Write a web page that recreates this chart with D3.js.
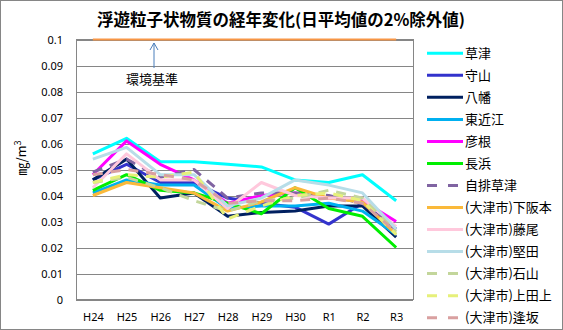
<!DOCTYPE html>
<html><head><meta charset="utf-8">
<script src="https://cdn.jsdelivr.net/npm/d3@7"></script>
<style>body{margin:0;background:#fff}svg{display:block}</style>
</head><body><svg id="c" width="563" height="330"></svg>
<script>
const categories = ["H24","H25","H26","H27","H28","H29","H30","R1","R2","R3"];
const yTicks = [0,0.01,0.02,0.03,0.04,0.05,0.06,0.07,0.08,0.09,0.1];
const yTickLabels = ["0","0.01","0.02","0.03","0.04","0.05","0.06","0.07","0.08","0.09","0.1"];
const standard = [0.1,0.1,0.1,0.1,0.1,0.1,0.1,0.1,0.1,0.1];
const seriesNames = ["草津","守山","八幡","東近江","彦根","長浜","自排草津","(大津市)下阪本","(大津市)藤尾","(大津市)堅田","(大津市)石山","(大津市)上田上","(大津市)逢坂"];
const kusatsu   = [0.056,0.062,0.053,0.053,0.052,0.051,0.046,0.045,0.048,0.038];
const moriyama  = [0.046,0.052,0.045,0.045,0.039,0.037,0.0355,0.029,0.037,0.027];
const yawata    = [0.046,0.054,0.039,0.041,0.032,0.0335,0.034,0.036,0.036,0.024];
const higashiomi= [0.041,0.046,0.044,0.044,0.035,0.036,0.036,0.037,0.034,0.025];
const hikone    = [0.048,0.061,0.052,0.046,0.037,0.040,0.041,0.039,0.038,0.030];
const nagahama  = [0.042,0.048,0.042,0.041,0.037,0.033,0.043,0.035,0.032,0.020];
const jihaiKusatsu = [0.049,0.054,0.047,0.050,0.039,0.041,0.041,0.040,0.037,0.027];
const shimosakamoto= [0.040,0.045,0.043,0.041,0.034,0.0375,0.043,0.039,0.0375,0.025];
const fujio     = [0.043,0.056,0.046,0.046,0.035,0.045,0.040,0.039,0.039,0.028];
const katata    = [0.054,0.0585,0.048,0.048,0.036,0.039,0.046,0.044,0.041,0.027];
const ishiyama  = [0.045,0.047,0.043,0.038,0.034,0.038,0.039,0.042,0.039,0.026];
const tanakami  = [0.045,0.048,0.047,0.049,0.031,0.036,0.040,0.041,0.038,0.025];
const osaka     = [0.048,0.050,0.048,0.046,0.037,0.038,0.038,0.039,0.037,0.026];
const seriesValues = [kusatsu,moriyama,yawata,higashiomi,hikone,nagahama,jihaiKusatsu,shimosakamoto,fujio,katata,ishiyama,tanakami,osaka];
const colors = ["#00ffff","#3333cc","#002060","#00b0f0","#ff00ff","#00ee00","#8064a2","#fab93a","#ffc8dc","#b7dde8","#c3d69b","#e6f07a","#d9a0a0"];
const dashed = [false,false,false,false,false,false,true,false,false,false,true,true,true];

const svg = d3.select("#c");
const L=76, R=413, T=39.5, B=299.5;
const jp = "'Noto Sans CJK JP', sans-serif";
const lat = "'Noto Sans', sans-serif";

svg.append("rect").attr("x",0.5).attr("y",0.5).attr("width",562).attr("height",329)
  .attr("fill","#fff").attr("stroke","#868686");

const x = d3.scalePoint().domain(categories).range([L,R]).padding(0.5);
const y = d3.scaleLinear().domain([0,0.1]).range([B,T]);

// gridlines
const ya = d3.axisLeft(y).tickValues(yTicks).tickSize(-(R-L)).tickFormat((d,i)=>yTickLabels[i]);
const gy = svg.append("g").attr("transform",`translate(${L},0)`).call(ya);
gy.select(".domain").remove();
gy.selectAll(".tick line").attr("stroke","#868686").attr("shape-rendering","crispEdges");
gy.selectAll(".tick text").attr("x",-13).attr("font-family",lat).attr("font-size",11).attr("fill","#000");

// plot border
svg.append("rect").attr("x",L).attr("y",T).attr("width",R-L).attr("height",B-T)
  .attr("fill","none").attr("stroke","#868686").attr("shape-rendering","crispEdges");

// x axis labels
const xa = d3.axisBottom(x).tickSize(0).tickPadding(0);
const gx = svg.append("g").attr("transform",`translate(0,${B})`).call(xa);
gx.select(".domain").remove();
gx.selectAll(".tick text").attr("dy",0).attr("y",21).attr("font-family",lat).attr("font-size",11).attr("fill","#000");

// lines
const line = d3.line().x((d,i)=>x(categories[i])).y(d=>y(d));
svg.append("path").datum(standard).attr("d",line).attr("fill","none").attr("stroke","#f79646").attr("stroke-width",2);
seriesValues.forEach((vals,k)=>{
  svg.append("path").datum(vals).attr("d",line).attr("fill","none")
    .attr("stroke",colors[k]).attr("stroke-width",3).attr("stroke-linejoin","round")
    .attr("stroke-dasharray",dashed[k]?"10,8":null);
});

// annotation
const ax = 154;
svg.append("line").attr("x1",ax).attr("x2",ax).attr("y1",68).attr("y2",43).attr("stroke","#4a7ebb").attr("stroke-width",1);
svg.append("path").attr("d",`M${ax-4},50 L${ax},43 L${ax+4},50`).attr("fill","none").attr("stroke","#4a7ebb").attr("stroke-width",1);
svg.append("text").attr("x",152).attr("y",84).attr("text-anchor","middle").attr("font-family",jp).attr("font-size",13).text("環境基準");

// title
svg.append("text").attr("x",281).attr("y",26).attr("text-anchor","middle").attr("font-family",jp)
  .attr("font-size",16.5).attr("font-weight","bold").text("浮遊粒子状物質の経年変化(日平均値の2%除外値)");

// y label
const yl = svg.append("text").attr("transform","translate(26,158) rotate(-90)").attr("text-anchor","middle")
  .attr("font-family",jp).attr("font-size",13);
yl.append("tspan").text("㎎/m");
yl.append("tspan").attr("dy",-5).attr("font-size",9).text("3");

// legend
const lg = svg.append("g");
seriesNames.forEach((n,k)=>{
  const yy = 53.3 + k*22.03;
  lg.append("line").attr("x1",427).attr("x2",463).attr("y1",yy).attr("y2",yy)
    .attr("stroke",colors[k]).attr("stroke-width",3).attr("stroke-dasharray",dashed[k]?"10,11":null);
  lg.append("text").attr("x",465).attr("y",yy).attr("dy","0.36em").attr("font-family",jp).attr("font-size",13).text(n);
});
</script></body></html>
